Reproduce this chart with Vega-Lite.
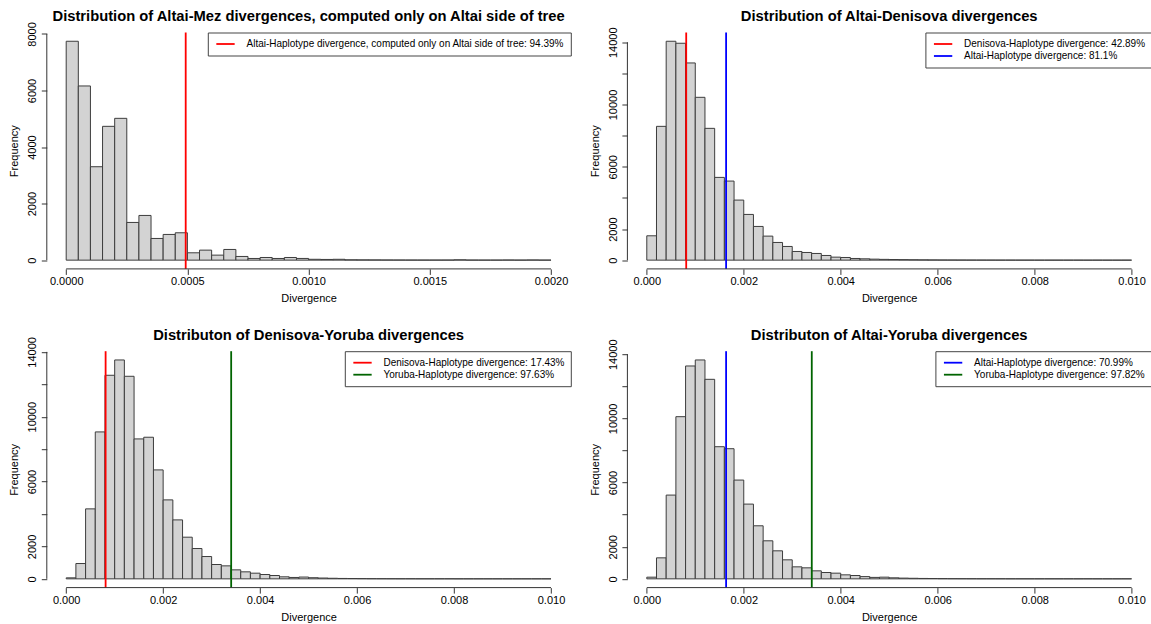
{
  "$schema": "https://vega.github.io/schema/vega-lite/v6.json",
  "background": "white",
  "autosize": {"type": "pad"},
  "padding": {"left": 8.8, "top": 8.5, "right": 0, "bottom": 2},
  "bounds": "flush",
  "columns": 2,
  "spacing": {"row": 81.7, "column": 56.6},
  "config": {
    "view": {"stroke": null},
    "font": "Liberation Sans",
    "title": {"font": "Liberation Sans", "fontSize": 14.75, "fontWeight": "bold", "color": "#000", "anchor": "middle", "frame": "group", "baseline": "alphabetic"},
    "axis": {"labelFont": "Liberation Sans", "titleFont": "Liberation Sans", "labelFontSize": 11, "titleFontSize": 11, "titleFontWeight": "normal", "labelColor": "#000", "titleColor": "#000", "tickColor": "#333", "tickSize": 5.5, "domain": false, "grid": false, "labelFlush": false, "labelOverlap": false},
    "legend": {"orient": "top-right", "offset": 0, "padding": 6, "strokeColor": "#444", "fillColor": "#ffffff", "cornerRadius": 0, "symbolType": "M-2,0H2", "symbolSize": 84, "symbolStrokeWidth": 1.8, "symbolOffset": 6.2, "labelOffset": 15.5, "labelFont": "Liberation Sans", "labelFontSize": 10, "labelColor": "#000", "labelLimit": 0, "rowPadding": 1, "titlePadding": 0}
  },
  "datasets": {
    "mez": [
      {"bin_start": 0, "bin_end": 0.00005, "count": 7741},
      {"bin_start": 0.00005, "bin_end": 0.0001, "count": 6160},
      {"bin_start": 0.0001, "bin_end": 0.00015, "count": 3304},
      {"bin_start": 0.00015, "bin_end": 0.0002, "count": 4732},
      {"bin_start": 0.0002, "bin_end": 0.00025, "count": 5015},
      {"bin_start": 0.00025, "bin_end": 0.0003, "count": 1333},
      {"bin_start": 0.0003, "bin_end": 0.00035, "count": 1581},
      {"bin_start": 0.00035, "bin_end": 0.0004, "count": 767},
      {"bin_start": 0.0004, "bin_end": 0.00045, "count": 909},
      {"bin_start": 0.00045, "bin_end": 0.0005, "count": 968},
      {"bin_start": 0.0005, "bin_end": 0.00055, "count": 260},
      {"bin_start": 0.00055, "bin_end": 0.0006, "count": 354},
      {"bin_start": 0.0006, "bin_end": 0.00065, "count": 177},
      {"bin_start": 0.00065, "bin_end": 0.0007, "count": 378},
      {"bin_start": 0.0007, "bin_end": 0.00075, "count": 130},
      {"bin_start": 0.00075, "bin_end": 0.0008, "count": 59},
      {"bin_start": 0.0008, "bin_end": 0.00085, "count": 94},
      {"bin_start": 0.00085, "bin_end": 0.0009, "count": 59},
      {"bin_start": 0.0009, "bin_end": 0.00095, "count": 94},
      {"bin_start": 0.00095, "bin_end": 0.001, "count": 60},
      {"bin_start": 0.001, "bin_end": 0.00105, "count": 30},
      {"bin_start": 0.00105, "bin_end": 0.0011, "count": 25},
      {"bin_start": 0.0011, "bin_end": 0.00115, "count": 30},
      {"bin_start": 0.00115, "bin_end": 0.0012, "count": 12},
      {"bin_start": 0.0012, "bin_end": 0.00125, "count": 10},
      {"bin_start": 0.00125, "bin_end": 0.0013, "count": 8},
      {"bin_start": 0.0013, "bin_end": 0.00135, "count": 6},
      {"bin_start": 0.00135, "bin_end": 0.0014, "count": 5},
      {"bin_start": 0.0014, "bin_end": 0.00145, "count": 4},
      {"bin_start": 0.00145, "bin_end": 0.0015, "count": 3},
      {"bin_start": 0.0015, "bin_end": 0.00155, "count": 3},
      {"bin_start": 0.00155, "bin_end": 0.0016, "count": 4},
      {"bin_start": 0.0016, "bin_end": 0.00165, "count": 12},
      {"bin_start": 0.00165, "bin_end": 0.0017, "count": 3},
      {"bin_start": 0.0017, "bin_end": 0.00175, "count": 2},
      {"bin_start": 0.00175, "bin_end": 0.0018, "count": 2},
      {"bin_start": 0.0018, "bin_end": 0.00185, "count": 5},
      {"bin_start": 0.00185, "bin_end": 0.0019, "count": 2},
      {"bin_start": 0.0019, "bin_end": 0.00195, "count": 6},
      {"bin_start": 0.00195, "bin_end": 0.002, "count": 2}
    ],
    "mez_lines": [
      {"label": "Altai-Haplotype divergence, computed only on Altai side of tree: 94.39%", "value": 0.000493}
    ],
    "altai_denisova": [
      {"bin_start": 0, "bin_end": 0.0002, "count": 1565},
      {"bin_start": 0.0002, "bin_end": 0.0004, "count": 8597},
      {"bin_start": 0.0004, "bin_end": 0.0006, "count": 14065},
      {"bin_start": 0.0006, "bin_end": 0.0008, "count": 13936},
      {"bin_start": 0.0008, "bin_end": 0.001, "count": 12671},
      {"bin_start": 0.001, "bin_end": 0.0012, "count": 10463},
      {"bin_start": 0.0012, "bin_end": 0.0014, "count": 8469},
      {"bin_start": 0.0014, "bin_end": 0.0016, "count": 5317},
      {"bin_start": 0.0016, "bin_end": 0.0018, "count": 5081},
      {"bin_start": 0.0018, "bin_end": 0.002, "count": 3859},
      {"bin_start": 0.002, "bin_end": 0.0022, "count": 2937},
      {"bin_start": 0.0022, "bin_end": 0.0024, "count": 2165},
      {"bin_start": 0.0024, "bin_end": 0.0026, "count": 1544},
      {"bin_start": 0.0026, "bin_end": 0.0028, "count": 1136},
      {"bin_start": 0.0028, "bin_end": 0.003, "count": 879},
      {"bin_start": 0.003, "bin_end": 0.0032, "count": 557},
      {"bin_start": 0.0032, "bin_end": 0.0034, "count": 493},
      {"bin_start": 0.0034, "bin_end": 0.0036, "count": 429},
      {"bin_start": 0.0036, "bin_end": 0.0038, "count": 300},
      {"bin_start": 0.0038, "bin_end": 0.004, "count": 193},
      {"bin_start": 0.004, "bin_end": 0.0042, "count": 170},
      {"bin_start": 0.0042, "bin_end": 0.0044, "count": 107},
      {"bin_start": 0.0044, "bin_end": 0.0046, "count": 86},
      {"bin_start": 0.0046, "bin_end": 0.0048, "count": 64},
      {"bin_start": 0.0048, "bin_end": 0.005, "count": 50},
      {"bin_start": 0.005, "bin_end": 0.0052, "count": 40},
      {"bin_start": 0.0052, "bin_end": 0.0054, "count": 32},
      {"bin_start": 0.0054, "bin_end": 0.0056, "count": 25},
      {"bin_start": 0.0056, "bin_end": 0.0058, "count": 20},
      {"bin_start": 0.0058, "bin_end": 0.006, "count": 15},
      {"bin_start": 0.006, "bin_end": 0.0062, "count": 12},
      {"bin_start": 0.0062, "bin_end": 0.0064, "count": 10},
      {"bin_start": 0.0064, "bin_end": 0.0066, "count": 8},
      {"bin_start": 0.0066, "bin_end": 0.0068, "count": 6},
      {"bin_start": 0.0068, "bin_end": 0.007, "count": 5},
      {"bin_start": 0.007, "bin_end": 0.0072, "count": 4},
      {"bin_start": 0.0072, "bin_end": 0.0074, "count": 3},
      {"bin_start": 0.0074, "bin_end": 0.0076, "count": 3},
      {"bin_start": 0.0076, "bin_end": 0.0078, "count": 2},
      {"bin_start": 0.0078, "bin_end": 0.008, "count": 2},
      {"bin_start": 0.008, "bin_end": 0.0082, "count": 1},
      {"bin_start": 0.0082, "bin_end": 0.0084, "count": 1},
      {"bin_start": 0.0084, "bin_end": 0.0086, "count": 1},
      {"bin_start": 0.0086, "bin_end": 0.0088, "count": 1},
      {"bin_start": 0.0088, "bin_end": 0.009, "count": 1},
      {"bin_start": 0.009, "bin_end": 0.0092, "count": 0},
      {"bin_start": 0.0092, "bin_end": 0.0094, "count": 1},
      {"bin_start": 0.0094, "bin_end": 0.0096, "count": 0},
      {"bin_start": 0.0096, "bin_end": 0.0098, "count": 0},
      {"bin_start": 0.0098, "bin_end": 0.01, "count": 1}
    ],
    "altai_denisova_lines": [
      {"label": "Denisova-Haplotype divergence: 42.89%", "value": 0.000813},
      {"label": "Altai-Haplotype divergence: 81.1%", "value": 0.001636}
    ],
    "denisova_yoruba": [
      {"bin_start": 0, "bin_end": 0.0002, "count": 62},
      {"bin_start": 0.0002, "bin_end": 0.0004, "count": 945},
      {"bin_start": 0.0004, "bin_end": 0.0006, "count": 4316},
      {"bin_start": 0.0006, "bin_end": 0.0008, "count": 9063},
      {"bin_start": 0.0008, "bin_end": 0.001, "count": 12556},
      {"bin_start": 0.001, "bin_end": 0.0012, "count": 13501},
      {"bin_start": 0.0012, "bin_end": 0.0014, "count": 12494},
      {"bin_start": 0.0014, "bin_end": 0.0016, "count": 8631},
      {"bin_start": 0.0016, "bin_end": 0.0018, "count": 8734},
      {"bin_start": 0.0018, "bin_end": 0.002, "count": 6720},
      {"bin_start": 0.002, "bin_end": 0.0022, "count": 4870},
      {"bin_start": 0.0022, "bin_end": 0.0024, "count": 3637},
      {"bin_start": 0.0024, "bin_end": 0.0026, "count": 2569},
      {"bin_start": 0.0026, "bin_end": 0.0028, "count": 1870},
      {"bin_start": 0.0028, "bin_end": 0.003, "count": 1377},
      {"bin_start": 0.003, "bin_end": 0.0032, "count": 884},
      {"bin_start": 0.0032, "bin_end": 0.0034, "count": 801},
      {"bin_start": 0.0034, "bin_end": 0.0036, "count": 555},
      {"bin_start": 0.0036, "bin_end": 0.0038, "count": 432},
      {"bin_start": 0.0038, "bin_end": 0.004, "count": 349},
      {"bin_start": 0.004, "bin_end": 0.0042, "count": 267},
      {"bin_start": 0.0042, "bin_end": 0.0044, "count": 206},
      {"bin_start": 0.0044, "bin_end": 0.0046, "count": 125},
      {"bin_start": 0.0046, "bin_end": 0.0048, "count": 85},
      {"bin_start": 0.0048, "bin_end": 0.005, "count": 110},
      {"bin_start": 0.005, "bin_end": 0.0052, "count": 70},
      {"bin_start": 0.0052, "bin_end": 0.0054, "count": 50},
      {"bin_start": 0.0054, "bin_end": 0.0056, "count": 35},
      {"bin_start": 0.0056, "bin_end": 0.0058, "count": 25},
      {"bin_start": 0.0058, "bin_end": 0.006, "count": 20},
      {"bin_start": 0.006, "bin_end": 0.0062, "count": 15},
      {"bin_start": 0.0062, "bin_end": 0.0064, "count": 10},
      {"bin_start": 0.0064, "bin_end": 0.0066, "count": 8},
      {"bin_start": 0.0066, "bin_end": 0.0068, "count": 6},
      {"bin_start": 0.0068, "bin_end": 0.007, "count": 5},
      {"bin_start": 0.007, "bin_end": 0.0072, "count": 4},
      {"bin_start": 0.0072, "bin_end": 0.0074, "count": 3},
      {"bin_start": 0.0074, "bin_end": 0.0076, "count": 2},
      {"bin_start": 0.0076, "bin_end": 0.0078, "count": 2},
      {"bin_start": 0.0078, "bin_end": 0.008, "count": 2},
      {"bin_start": 0.008, "bin_end": 0.0082, "count": 1},
      {"bin_start": 0.0082, "bin_end": 0.0084, "count": 1},
      {"bin_start": 0.0084, "bin_end": 0.0086, "count": 1},
      {"bin_start": 0.0086, "bin_end": 0.0088, "count": 1},
      {"bin_start": 0.0088, "bin_end": 0.009, "count": 0},
      {"bin_start": 0.009, "bin_end": 0.0092, "count": 1},
      {"bin_start": 0.0092, "bin_end": 0.0094, "count": 0},
      {"bin_start": 0.0094, "bin_end": 0.0096, "count": 0},
      {"bin_start": 0.0096, "bin_end": 0.0098, "count": 0},
      {"bin_start": 0.0098, "bin_end": 0.01, "count": 1}
    ],
    "denisova_yoruba_lines": [
      {"label": "Denisova-Haplotype divergence: 17.43%", "value": 0.000813},
      {"label": "Yoruba-Haplotype divergence: 97.63%", "value": 0.003403}
    ],
    "altai_yoruba": [
      {"bin_start": 0, "bin_end": 0.0002, "count": 104},
      {"bin_start": 0.0002, "bin_end": 0.0004, "count": 1310},
      {"bin_start": 0.0004, "bin_end": 0.0006, "count": 5221},
      {"bin_start": 0.0006, "bin_end": 0.0008, "count": 10109},
      {"bin_start": 0.0008, "bin_end": 0.001, "count": 13270},
      {"bin_start": 0.001, "bin_end": 0.0012, "count": 13645},
      {"bin_start": 0.0012, "bin_end": 0.0014, "count": 12438},
      {"bin_start": 0.0014, "bin_end": 0.0016, "count": 8237},
      {"bin_start": 0.0016, "bin_end": 0.0018, "count": 8112},
      {"bin_start": 0.0018, "bin_end": 0.002, "count": 6157},
      {"bin_start": 0.002, "bin_end": 0.0022, "count": 4659},
      {"bin_start": 0.0022, "bin_end": 0.0024, "count": 3307},
      {"bin_start": 0.0024, "bin_end": 0.0026, "count": 2371},
      {"bin_start": 0.0026, "bin_end": 0.0028, "count": 1747},
      {"bin_start": 0.0028, "bin_end": 0.003, "count": 1186},
      {"bin_start": 0.003, "bin_end": 0.0032, "count": 749},
      {"bin_start": 0.0032, "bin_end": 0.0034, "count": 686},
      {"bin_start": 0.0034, "bin_end": 0.0036, "count": 499},
      {"bin_start": 0.0036, "bin_end": 0.0038, "count": 395},
      {"bin_start": 0.0038, "bin_end": 0.004, "count": 354},
      {"bin_start": 0.004, "bin_end": 0.0042, "count": 250},
      {"bin_start": 0.0042, "bin_end": 0.0044, "count": 208},
      {"bin_start": 0.0044, "bin_end": 0.0046, "count": 140},
      {"bin_start": 0.0046, "bin_end": 0.0048, "count": 90},
      {"bin_start": 0.0048, "bin_end": 0.005, "count": 105},
      {"bin_start": 0.005, "bin_end": 0.0052, "count": 65},
      {"bin_start": 0.0052, "bin_end": 0.0054, "count": 45},
      {"bin_start": 0.0054, "bin_end": 0.0056, "count": 35},
      {"bin_start": 0.0056, "bin_end": 0.0058, "count": 25},
      {"bin_start": 0.0058, "bin_end": 0.006, "count": 20},
      {"bin_start": 0.006, "bin_end": 0.0062, "count": 15},
      {"bin_start": 0.0062, "bin_end": 0.0064, "count": 10},
      {"bin_start": 0.0064, "bin_end": 0.0066, "count": 8},
      {"bin_start": 0.0066, "bin_end": 0.0068, "count": 6},
      {"bin_start": 0.0068, "bin_end": 0.007, "count": 5},
      {"bin_start": 0.007, "bin_end": 0.0072, "count": 4},
      {"bin_start": 0.0072, "bin_end": 0.0074, "count": 3},
      {"bin_start": 0.0074, "bin_end": 0.0076, "count": 2},
      {"bin_start": 0.0076, "bin_end": 0.0078, "count": 2},
      {"bin_start": 0.0078, "bin_end": 0.008, "count": 2},
      {"bin_start": 0.008, "bin_end": 0.0082, "count": 1},
      {"bin_start": 0.0082, "bin_end": 0.0084, "count": 1},
      {"bin_start": 0.0084, "bin_end": 0.0086, "count": 1},
      {"bin_start": 0.0086, "bin_end": 0.0088, "count": 1},
      {"bin_start": 0.0088, "bin_end": 0.009, "count": 0},
      {"bin_start": 0.009, "bin_end": 0.0092, "count": 1},
      {"bin_start": 0.0092, "bin_end": 0.0094, "count": 0},
      {"bin_start": 0.0094, "bin_end": 0.0096, "count": 0},
      {"bin_start": 0.0096, "bin_end": 0.0098, "count": 0},
      {"bin_start": 0.0098, "bin_end": 0.01, "count": 1}
    ],
    "altai_yoruba_lines": [
      {"label": "Altai-Haplotype divergence: 70.99%", "value": 0.001636},
      {"label": "Yoruba-Haplotype divergence: 97.82%", "value": 0.003403}
    ]
  },
  "concat": [
    {
      "width": 523.6,
      "height": 236.4,
      "title": {"text": "Distribution of Altai-Mez divergences, computed only on Altai side of tree", "offset": -2.3},
      "layer": [
        {
          "data": {"name": "mez"},
          "mark": {"type": "rect", "fill": "#d3d3d3", "stroke": "#3c3c3c", "strokeWidth": 1},
          "encoding": {
            "x": {"field": "bin_start", "type": "quantitative", "title": "Divergence", "scale": {"domain": [-0.00008, 0.00208], "nice": false, "zero": false},
                  "axis": {"values": [0, 0.0005, 0.001, 0.0015, 0.002], "tickCount": 50, "format": ".4f", "labelOverlap": false, "labelBaseline": "alphabetic", "labelPadding": 10.5, "titleBaseline": "alphabetic", "titleY": 33}},
            "x2": {"field": "bin_end"},
            "y": {"field": "count", "type": "quantitative", "title": "Frequency", "scale": {"domain": [-309.64, 8050.64], "nice": false, "zero": false},
                  "axis": {"values": [0, 2000, 4000, 6000, 8000], "tickCount": 50, "format": "d", "labelOverlap": false, "labelAngle": 270, "labelAlign": "center", "labelBaseline": "alphabetic", "labelPadding": 5.4, "titleAngle": 270, "titleAlign": "center", "titleBaseline": "alphabetic", "titleX": -28.8}},
            "y2": {"datum": 0}
          }
        },
        {
          "data": {"name": "mez_lines"},
          "mark": {"type": "rule", "strokeWidth": 1.8},
          "encoding": {
            "x": {"field": "value", "type": "quantitative", "title": "Divergence"},
            "color": {"field": "label", "type": "nominal", "scale": {"domain": ["Altai-Haplotype divergence, computed only on Altai side of tree: 94.39%"], "range": ["#ff0000"]}, "legend": {"title": null}}
          }
        },
        {
          "data": {"values": [{}]},
          "mark": {"type": "rule", "color": "#333", "strokeWidth": 1},
          "encoding": {"x": {"datum": 0, "title": "Divergence"}, "x2": {"datum": 0.002}, "y": {"datum": -309.64, "title": "Frequency"}}
        },
        {
          "data": {"values": [{}]},
          "mark": {"type": "rule", "color": "#333", "strokeWidth": 1},
          "encoding": {"x": {"datum": -0.00008, "title": "Divergence"}, "y": {"datum": 0, "title": "Frequency"}, "y2": {"datum": 8000}}
        }
      ]
    },
    {
      "width": 523.6,
      "height": 236.4,
      "title": {"text": "Distribution of Altai-Denisova divergences", "offset": 2.98},
      "layer": [
        {
          "data": {"name": "altai_denisova"},
          "mark": {"type": "rect", "fill": "#d3d3d3", "stroke": "#3c3c3c", "strokeWidth": 1},
          "encoding": {
            "x": {"field": "bin_start", "type": "quantitative", "title": "Divergence", "scale": {"domain": [-0.0004, 0.0104], "nice": false, "zero": false},
                  "axis": {"values": [0, 0.002, 0.004, 0.006, 0.008, 0.01], "tickCount": 50, "format": ".3f", "labelOverlap": false, "labelBaseline": "alphabetic", "labelPadding": 10.5, "titleBaseline": "alphabetic", "titleY": 33}},
            "x2": {"field": "bin_end"},
            "y": {"field": "count", "type": "quantitative", "title": "Frequency", "scale": {"domain": [-562.6, 14627.6], "nice": false, "zero": false},
                  "axis": {"values": [0, 2000, 4000, 6000, 8000, 10000, 12000, 14000], "tickCount": 50, "format": "d", "labelExpr": "indexof([4000, 8000, 12000], datum.value) >= 0 ? '' : datum.label", "labelOverlap": false, "labelAngle": 270, "labelAlign": "center", "labelBaseline": "alphabetic", "labelPadding": 5.4, "titleAngle": 270, "titleAlign": "center", "titleBaseline": "alphabetic", "titleX": -28.8}},
            "y2": {"datum": 0}
          }
        },
        {
          "data": {"name": "altai_denisova_lines"},
          "mark": {"type": "rule", "strokeWidth": 1.8},
          "encoding": {
            "x": {"field": "value", "type": "quantitative", "title": "Divergence"},
            "color": {"field": "label", "type": "nominal", "scale": {"domain": ["Denisova-Haplotype divergence: 42.89%", "Altai-Haplotype divergence: 81.1%"], "range": ["#ff0000", "#0000ff"]}, "legend": {"title": null}}
          }
        },
        {
          "data": {"values": [{}]},
          "mark": {"type": "rule", "color": "#333", "strokeWidth": 1},
          "encoding": {"x": {"datum": 0, "title": "Divergence"}, "x2": {"datum": 0.01}, "y": {"datum": -562.6, "title": "Frequency"}}
        },
        {
          "data": {"values": [{}]},
          "mark": {"type": "rule", "color": "#333", "strokeWidth": 1},
          "encoding": {"x": {"datum": -0.0004, "title": "Divergence"}, "y": {"datum": 0, "title": "Frequency"}, "y2": {"datum": 14000}}
        }
      ]
    },
    {
      "width": 523.6,
      "height": 236.4,
      "title": {"text": "Distributon of Denisova-Yoruba divergences", "offset": -6.12},
      "layer": [
        {
          "data": {"name": "denisova_yoruba"},
          "mark": {"type": "rect", "fill": "#d3d3d3", "stroke": "#3c3c3c", "strokeWidth": 1},
          "encoding": {
            "x": {"field": "bin_start", "type": "quantitative", "title": "Divergence", "scale": {"domain": [-0.0004, 0.0104], "nice": false, "zero": false},
                  "axis": {"values": [0, 0.002, 0.004, 0.006, 0.008, 0.01], "tickCount": 50, "format": ".3f", "labelOverlap": false, "labelBaseline": "alphabetic", "labelPadding": 10.5, "titleBaseline": "alphabetic", "titleY": 33}},
            "x2": {"field": "bin_end"},
            "y": {"field": "count", "type": "quantitative", "title": "Frequency", "scale": {"domain": [-540.04, 14041.04], "nice": false, "zero": false},
                  "axis": {"values": [0, 2000, 4000, 6000, 8000, 10000, 12000, 14000], "tickCount": 50, "format": "d", "labelExpr": "indexof([4000, 8000, 12000], datum.value) >= 0 ? '' : datum.label", "labelOverlap": false, "labelAngle": 270, "labelAlign": "center", "labelBaseline": "alphabetic", "labelPadding": 5.4, "titleAngle": 270, "titleAlign": "center", "titleBaseline": "alphabetic", "titleX": -28.8}},
            "y2": {"datum": 0}
          }
        },
        {
          "data": {"name": "denisova_yoruba_lines"},
          "mark": {"type": "rule", "strokeWidth": 1.8},
          "encoding": {
            "x": {"field": "value", "type": "quantitative", "title": "Divergence"},
            "color": {"field": "label", "type": "nominal", "scale": {"domain": ["Denisova-Haplotype divergence: 17.43%", "Yoruba-Haplotype divergence: 97.63%"], "range": ["#ff0000", "#006400"]}, "legend": {"title": null}}
          }
        },
        {
          "data": {"values": [{}]},
          "mark": {"type": "rule", "color": "#333", "strokeWidth": 1},
          "encoding": {"x": {"datum": 0, "title": "Divergence"}, "x2": {"datum": 0.01}, "y": {"datum": -540.04, "title": "Frequency"}}
        },
        {
          "data": {"values": [{}]},
          "mark": {"type": "rule", "color": "#333", "strokeWidth": 1},
          "encoding": {"x": {"datum": -0.0004, "title": "Divergence"}, "y": {"datum": 0, "title": "Frequency"}, "y2": {"datum": 14000}}
        }
      ]
    },
    {
      "width": 523.6,
      "height": 236.4,
      "title": {"text": "Distributon of Altai-Yoruba divergences", "offset": -3.73},
      "layer": [
        {
          "data": {"name": "altai_yoruba"},
          "mark": {"type": "rect", "fill": "#d3d3d3", "stroke": "#3c3c3c", "strokeWidth": 1},
          "encoding": {
            "x": {"field": "bin_start", "type": "quantitative", "title": "Divergence", "scale": {"domain": [-0.0004, 0.0104], "nice": false, "zero": false},
                  "axis": {"values": [0, 0.002, 0.004, 0.006, 0.008, 0.01], "tickCount": 50, "format": ".3f", "labelOverlap": false, "labelBaseline": "alphabetic", "labelPadding": 10.5, "titleBaseline": "alphabetic", "titleY": 33}},
            "x2": {"field": "bin_end"},
            "y": {"field": "count", "type": "quantitative", "title": "Frequency", "scale": {"domain": [-545.8, 14190.8], "nice": false, "zero": false},
                  "axis": {"values": [0, 2000, 4000, 6000, 8000, 10000, 12000, 14000], "tickCount": 50, "format": "d", "labelExpr": "indexof([4000, 8000, 12000], datum.value) >= 0 ? '' : datum.label", "labelOverlap": false, "labelAngle": 270, "labelAlign": "center", "labelBaseline": "alphabetic", "labelPadding": 5.4, "titleAngle": 270, "titleAlign": "center", "titleBaseline": "alphabetic", "titleX": -28.8}},
            "y2": {"datum": 0}
          }
        },
        {
          "data": {"name": "altai_yoruba_lines"},
          "mark": {"type": "rule", "strokeWidth": 1.8},
          "encoding": {
            "x": {"field": "value", "type": "quantitative", "title": "Divergence"},
            "color": {"field": "label", "type": "nominal", "scale": {"domain": ["Altai-Haplotype divergence: 70.99%", "Yoruba-Haplotype divergence: 97.82%"], "range": ["#0000ff", "#006400"]}, "legend": {"title": null}}
          }
        },
        {
          "data": {"values": [{}]},
          "mark": {"type": "rule", "color": "#333", "strokeWidth": 1},
          "encoding": {"x": {"datum": 0, "title": "Divergence"}, "x2": {"datum": 0.01}, "y": {"datum": -545.8, "title": "Frequency"}}
        },
        {
          "data": {"values": [{}]},
          "mark": {"type": "rule", "color": "#333", "strokeWidth": 1},
          "encoding": {"x": {"datum": -0.0004, "title": "Divergence"}, "y": {"datum": 0, "title": "Frequency"}, "y2": {"datum": 14000}}
        }
      ]
    }
  ],
  "resolve": {
    "scale": {"x": "independent", "y": "independent", "color": "independent"},
    "axis": {"x": "independent", "y": "independent"},
    "legend": {"color": "independent"}
  }
}
